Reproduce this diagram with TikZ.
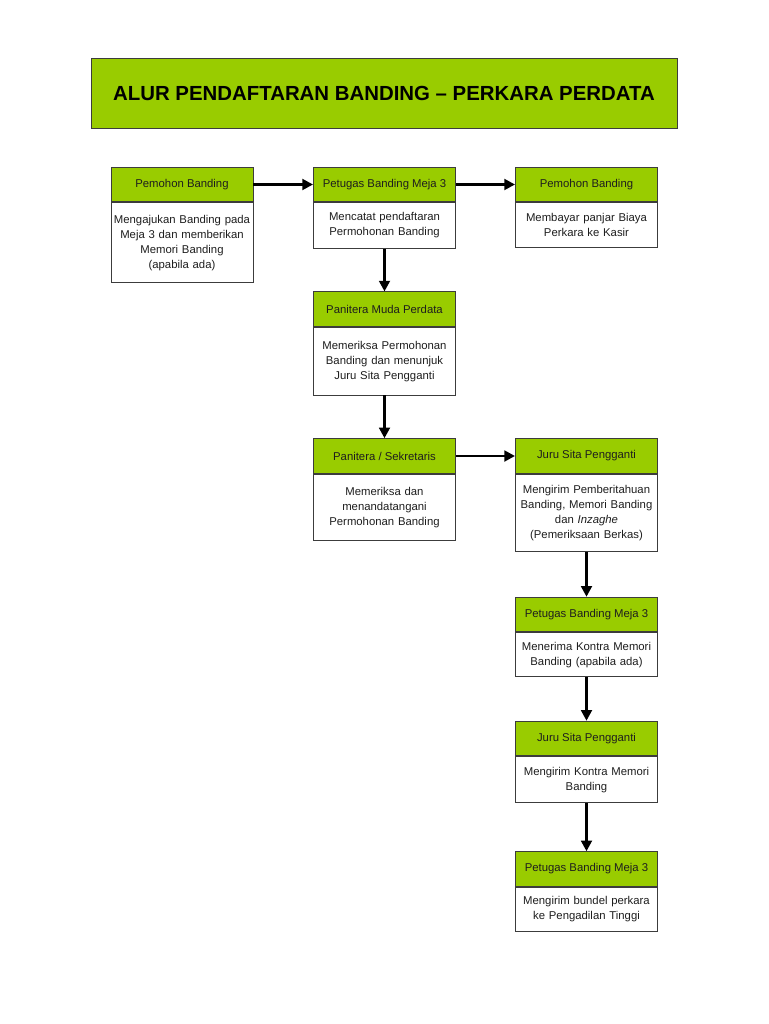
\documentclass[tikz,border=0pt]{standalone}
\usepackage{fontspec}
\setmainfont{Liberation Sans}
\usetikzlibrary{positioning,arrows.meta}
\definecolor{hijau}{HTML}{99CC00}
\definecolor{garis}{HTML}{3C3C3C}
\definecolor{teks}{HTML}{1E1E1E}
\tikzset{
  judul/.style={draw=garis, fill=hijau, line width=0.75pt, minimum width=439.5pt,
    minimum height=51.75pt, font=\fontsize{15.3}{18}\selectfont\bfseries, text=black},
  kepala/.style={draw=garis, fill=hijau, line width=0.7pt, minimum width=106.5pt,
    minimum height=25.9pt, inner sep=0pt, font=\fontsize{8.5}{10}\selectfont, text=teks},
  isi/.style={draw=garis, fill=white, line width=0.7pt, minimum width=106.5pt,
    text width=104pt, inner sep=1pt, align=center,
    font=\fontsize{8.5}{11.25}\selectfont, text=teks},
  panah/.style={line width=2.2pt, -{Triangle[length=8pt,width=8pt]}}
}
\begin{document}
\begin{tikzpicture}[x=0.75pt, y=-0.75pt]
\useasboundingbox (0,0) rectangle (768,1024);
  \node[judul] (judul) at (384,93.5) {ALUR PENDAFTARAN BANDING -- PERKARA PERDATA};
  % baris pertama
  \node[kepala] (pemohon) at (182,184.5) {Pemohon Banding};
  \node[isi, minimum height=60pt, below=0pt of pemohon] (pemohonIsi)
    {Mengajukan Banding pada\\ Meja 3 dan memberikan\\ Memori Banding\\ (apabila ada)};
  \node[kepala] (petugas) at (384.5,184.5) {Petugas Banding Meja 3};
  \node[isi, minimum height=34.2pt, below=0pt of petugas] (petugasIsi)
    {Mencatat pendaftaran\\ Permohonan Banding};
  \node[kepala] (kasir) at (586.5,184.5) {Pemohon Banding};
  \node[isi, minimum height=33.75pt, below=0pt of kasir] (kasirIsi)
    {Membayar panjar Biaya\\ Perkara ke Kasir};
  % kolom tengah
  \node[kepala] (panmud) at (384.5,309.2) {Panitera Muda Perdata};
  \node[isi, minimum height=50.7pt, below=0pt of panmud] (panmudIsi)
    {Memeriksa Permohonan\\ Banding dan menunjuk\\ Juru Sita Pengganti};
  \node[kepala] (panitera) at (384.5,456) {Panitera / Sekretaris};
  \node[isi, minimum height=50pt, below=0pt of panitera] (paniteraIsi)
    {Memeriksa dan\\ menandatangani\\ Permohonan Banding};
  % kolom kanan
  \node[kepala] (jurusita) at (586.5,456) {Juru Sita Pengganti};
  \node[isi, minimum height=58pt, below=0pt of jurusita] (jurusitaIsi)
    {Mengirim Pemberitahuan\\ Banding, Memori Banding\\ dan \textit{Inzaghe}\\ (Pemeriksaan Berkas)};
  \node[kepala] (petugasB) at (586.5,614.5) {Petugas Banding Meja 3};
  \node[isi, minimum height=33pt, below=0pt of petugasB] (petugasBIsi)
    {Menerima Kontra Memori\\ Banding (apabila ada)};
  \node[kepala] (jurusitaB) at (586.5,738.5) {Juru Sita Pengganti};
  \node[isi, minimum height=34.5pt, below=0pt of jurusitaB] (jurusitaBIsi)
    {Mengirim Kontra Memori\\ Banding};
  \node[kepala] (petugasC) at (586.5,869) {Petugas Banding Meja 3};
  \node[isi, minimum height=33pt, below=0pt of petugasC] (petugasCIsi)
    {Mengirim bundel perkara\\ ke Pengadilan Tinggi};
  % panah
  \draw[panah] (pemohon) -- (petugas);
  \draw[panah] (petugas) -- (kasir);
  \draw[panah] (petugasIsi) -- (panmud);
  \draw[panah] (panmudIsi) -- (panitera);
  \draw[panah] (panitera) -- (jurusita);
  \draw[panah] (jurusitaIsi) -- (petugasB);
  \draw[panah] (petugasBIsi) -- (jurusitaB);
  \draw[panah] (jurusitaBIsi) -- (petugasC);
\end{tikzpicture}
\end{document}
